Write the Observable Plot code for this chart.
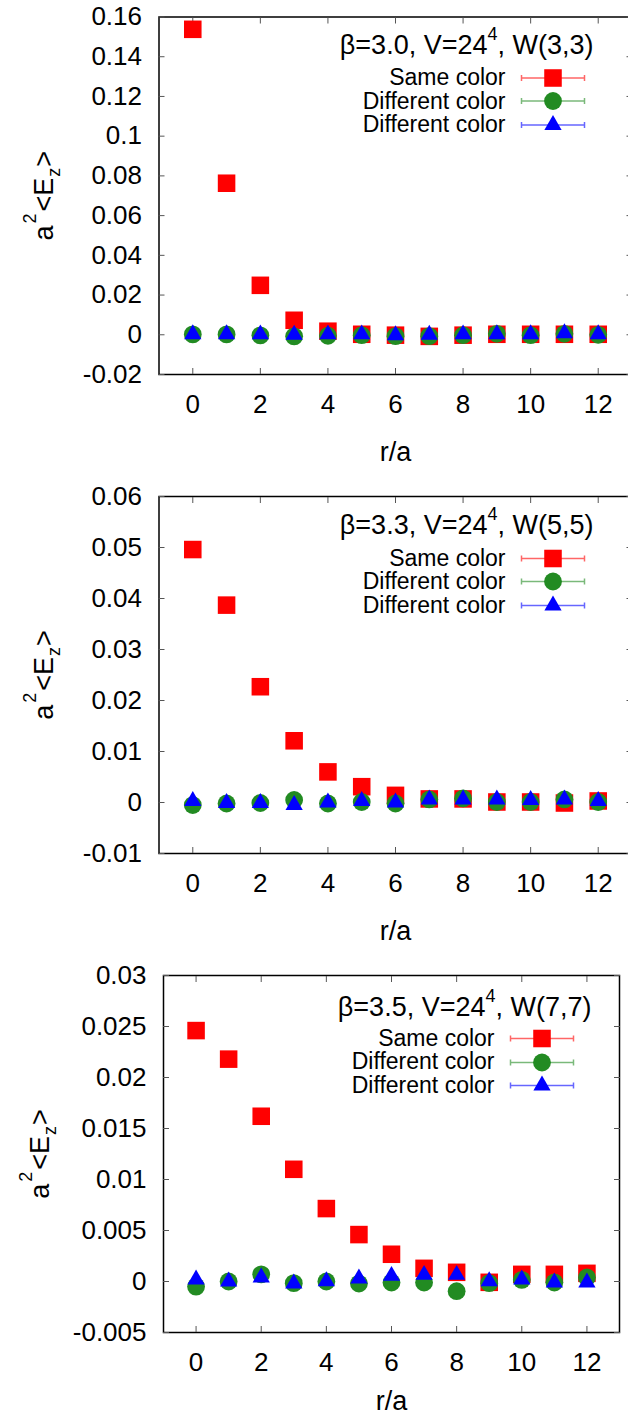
<!DOCTYPE html>
<html>
<head>
<meta charset="utf-8">
<script src="https://cdn.jsdelivr.net/npm/d3@7"></script>
<script src="https://cdn.jsdelivr.net/npm/@observablehq/plot@0.6"></script>
<style>
  html, body { margin: 0; padding: 0; background: white; overflow: hidden; }
  #chart { width: 628px; }
  #chart svg { display: block; }
</style>
</head>
<body>
<div id="chart"></div>
<script>
// ---------- data ----------
const rA = [0, 1, 2, 3, 4, 5, 6, 7, 8, 9, 10, 11, 12];
const titles = ["β=3.0, V=24⁴, W(3,3)", "β=3.3, V=24⁴, W(5,5)", "β=3.5, V=24⁴, W(7,7)"];
const seriesNames = ["Same color", "Different color", "Different color"];

const same1  = [0.1538, 0.0763, 0.0249, 0.0073, 0.0018, 0.00025, -0.0002, -0.0008, -0.0002, 0.00025, 0.00025, 0.00025, 0.00025];
const diffG1 = [0.0002, 0.0002, -0.0003, -0.0008, -0.0005, -0.0002, -0.0007, -0.0007, -0.0002, 0.0005, -0.0002, 0.0005, 0.0000];
const diffB1 = [0.0003, 0.0003, 0.0002, 0.0000, 0.0002, 0.0002, -0.0002, 0.0000, 0.0002, 0.0003, 0.0003, 0.0008, 0.0003];

const same2  = [0.0496, 0.0387, 0.0227, 0.0121, 0.0060, 0.0031, 0.0014, 0.0007, 0.0007, 0.0001, 0.0001, -0.0001, 0.0003];
const diffG2 = [-0.0005, -0.0002, -0.0001, 0.0005, -0.0002, 0.0001, -0.0002, 0.0006, 0.0008, 0.0001, 0.0001, 0.0006, 0.0001];
const diffB2 = [0.0003, -0.0001, -0.0001, -0.0005, 0.0000, 0.0003, 0.0000, 0.0006, 0.0006, 0.0006, 0.0005, 0.0006, 0.0003];

const same3  = [0.0246, 0.0218, 0.0162, 0.0110, 0.00715, 0.0046, 0.00267, 0.00129, 0.0009, -0.00008, 0.0007, 0.0007, 0.0008];
const diffG3 = [-0.0005, 0.0000, 0.0007, -0.00016, 0.0000, -0.0002, -0.0001, -0.0001, -0.00095, -0.00016, 0.00016, -0.0001, 0.0004];
const diffB3 = [0.0002, 0.0000, 0.0004, -0.0002, 0.00003, 0.0003, 0.00055, 0.00065, 0.00065, 0.00003, 0.0002, -0.0001, -0.0001];

const xTicks = [0, 2, 4, 6, 8, 10, 12];
const xTickLabels = ["0", "2", "4", "6", "8", "10", "12"];
const yTicks1 = [-0.02, 0, 0.02, 0.04, 0.06, 0.08, 0.1, 0.12, 0.14, 0.16];
const yTickLabels1 = ["-0.02", "0", "0.02", "0.04", "0.06", "0.08", "0.1", "0.12", "0.14", "0.16"];
const yTicks2 = [-0.01, 0, 0.01, 0.02, 0.03, 0.04, 0.05, 0.06];
const yTickLabels2 = ["-0.01", "0", "0.01", "0.02", "0.03", "0.04", "0.05", "0.06"];
const yTicks3 = [-0.005, 0, 0.005, 0.01, 0.015, 0.02, 0.025, 0.03];
const yTickLabels3 = ["-0.005", "0", "0.005", "0.01", "0.015", "0.02", "0.025", "0.03"];

const xLabel = "r/a";
const yLabel = "a2<Ez>";

// ---------- styles / layout ----------
const colors = ["#ff0000", "#228b22", "#0000ff"];
const symbols = ["square", "circle", "triangle"];
const radii = [9.9, 8.9, 6.4];

const layouts = [
  {height: 479, ml: 158.5, mr: -3.5, mt: 16.5, mb: 105, xlab: 86,
   title: {dx: -38.5, dy: 37}, entries: {dx: -126.5, dy: [68, 91.5, 115]}, samples: {dx: -79, dy: [61, 84, 108]}, ylab: -106},
  {height: 479, ml: 158.5, mr: -3.5, mt: 17, mb: 105, xlab: 86,
   title: {dx: -38.5, dy: 37}, entries: {dx: -126.5, dy: [69, 92.5, 116]}, samples: {dx: -79, dy: [62, 85, 109]}, ylab: -106},
  {height: 460, ml: 163, mr: 9, mt: 17, mb: 86, xlab: 77,
   title: {dx: -28, dy: 40}, entries: {dx: -125, dy: [70, 93.5, 117]}, samples: {dx: -77.5, dy: [63, 87, 110]}, ylab: -115}
];

const panels = [
  {series: [same1, diffG1, diffB1], yDomain: [-0.02, 0.16], yTicks: yTicks1, yTickLabels: yTickLabels1, title: titles[0]},
  {series: [same2, diffG2, diffB2], yDomain: [-0.01, 0.06], yTicks: yTicks2, yTickLabels: yTickLabels2, title: titles[1]},
  {series: [same3, diffG3, diffB3], yDomain: [-0.005, 0.03], yTicks: yTicks3, yTickLabels: yTickLabels3, title: titles[2]}
];

// error-bar legend sample as a custom symbol (horizontal bar with end caps)
const errBar = {
  draw(ctx) {
    const h = 31.5, c = 3;
    ctx.moveTo(-h, 0); ctx.lineTo(h, 0);
    ctx.moveTo(-h, -c); ctx.lineTo(-h, c);
    ctx.moveTo(h, -c); ctx.lineTo(h, c);
  }
};

const font = "'Liberation Sans', Arial, Helvetica, sans-serif";
const tickColor = "#555";

function makePanel(p, L) {
  const xFmt = new Map(xTicks.map((t, i) => [t, xTickLabels[i]]));
  const yFmt = new Map(p.yTicks.map((t, i) => [t, p.yTickLabels[i]]));
  const marks = [
    Plot.frame({stroke: "black", strokeWidth: 1.5}),
    // tick labels
    Plot.axisY(p.yTicks, {anchor: "left", tickSize: 0, tickPadding: 17, tickFormat: d => yFmt.get(d), fontSize: 26, label: null}),
    Plot.axisX(xTicks, {anchor: "bottom", tickSize: 0, tickPadding: 20, tickFormat: d => xFmt.get(d), fontSize: 26, label: null}),
    // inward ticks (mirrored)
    Plot.axisY(p.yTicks, {anchor: "left", tickSize: -6, tickFormat: () => "", stroke: tickColor, label: null}),
    Plot.axisY(p.yTicks, {anchor: "right", tickSize: -6, tickFormat: () => "", stroke: tickColor, label: null}),
    Plot.axisX(xTicks, {anchor: "bottom", tickSize: -6, tickFormat: () => "", stroke: tickColor, label: null}),
    Plot.axisX(xTicks, {anchor: "top", tickSize: -6, tickFormat: () => "", stroke: tickColor, label: null}),
    // axis labels
    Plot.text([xLabel], {frameAnchor: "bottom", dy: L.xlab, text: d => d, fontSize: 27, lineAnchor: "bottom"}),
    Plot.text([yLabel], {frameAnchor: "left", dx: L.ylab, text: d => d, fontSize: 27, rotate: -90, textAnchor: "middle", lineAnchor: "bottom"}),
  ];
  // data points: red, then green, then blue on top
  p.series.forEach((vals, k) => {
    marks.push(Plot.dot(rA, {x: d => d, y: (d, i) => vals[i], symbol: symbols[k], r: radii[k], fill: colors[k], stroke: "none"}));
  });
  // legend
  marks.push(Plot.text([p.title], {frameAnchor: "top-right", dx: L.title.dx, dy: L.title.dy, text: d => d, fontSize: 27, textAnchor: "end", lineAnchor: "bottom"}));
  seriesNames.forEach((name, k) => {
    marks.push(Plot.text([name], {frameAnchor: "top-right", dx: L.entries.dx, dy: L.entries.dy[k], text: d => d, fontSize: 23, textAnchor: "end", lineAnchor: "bottom"}));
    marks.push(Plot.dot([name], {frameAnchor: "top-right", dx: L.samples.dx, dy: L.samples.dy[k], symbol: errBar, r: 5, fill: "none", stroke: colors[k], strokeOpacity: 0.6, strokeWidth: 1.5}));
    marks.push(Plot.dot([name], {frameAnchor: "top-right", dx: L.samples.dx, dy: L.samples.dy[k], symbol: symbols[k], r: radii[k], fill: colors[k], stroke: "none"}));
  });

  const svg = Plot.plot({
    width: 628,
    height: L.height,
    marginLeft: L.ml, marginRight: L.mr, marginTop: L.mt, marginBottom: L.mb,
    style: {fontFamily: font, background: "white", color: "black", overflow: "hidden", maxWidth: "none"},
    x: {domain: [-1, 13]},
    y: {domain: p.yDomain},
    marks
  });

  // rich text: superscripts / subscripts
  d3.select(svg).selectAll("text").each(function () {
    const t = this.textContent;
    const sel = d3.select(this);
    if (t === yLabel) {
      sel.text(null);
      sel.append("tspan").text("a");
      sel.append("tspan").attr("font-size", 18).attr("dy", -17).attr("dx", 2).text("2");
      sel.append("tspan").attr("dy", 17).attr("dx", 2).text("<E");
      sel.append("tspan").attr("font-size", 18).attr("dy", 7).attr("dx", 1).text("z");
      sel.append("tspan").attr("dy", -7).attr("dx", 1).text(">");
    } else if (t.includes("⁴")) {
      const [a, b] = t.split("⁴");
      sel.text(null);
      sel.append("tspan").text(a);
      sel.append("tspan").attr("font-size", 18).attr("dy", -14).text("4");
      sel.append("tspan").attr("dy", 14).text(b);
    }
  });
  return svg;
}

const chart = document.getElementById("chart");
panels.forEach((p, i) => chart.appendChild(makePanel(p, layouts[i])));
</script>
</body>
</html>
